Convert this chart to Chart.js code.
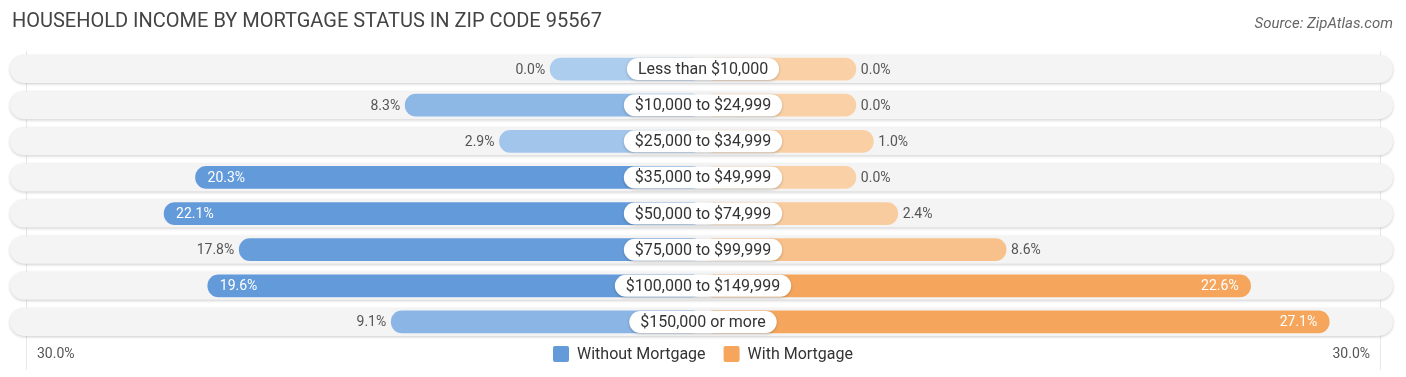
<!DOCTYPE html>
<html>
<head>
<meta charset="utf-8">
<script src="https://cdn.jsdelivr.net/npm/chart.js@4/dist/chart.umd.min.js"></script>
<style>
  html, body { margin:0; padding:0; background:#fff; }
  body { width:1406px; height:377px; position:relative; overflow:hidden; font-family:Roboto, sans-serif; }
  #title { position:absolute; left:12px; top:8px; font-size:20px; color:#444; }
  #source { position:absolute; right:13px; top:14px; font-size:15px; color:#666; font-style:italic; }
  #wrap { position:absolute; left:0; top:0; width:1406px; height:377px; }
</style>
</head>
<body>
<div id="wrap"><canvas id="chart" width="1406" height="377"></canvas></div>
<div id="title">HOUSEHOLD INCOME BY MORTGAGE STATUS IN ZIP CODE 95567</div>
<div id="source">Source: ZipAtlas.com</div>
<script>
// ── Data ─────────────────────────────────────────────────────
const categories = ['Less than $10,000','$10,000 to $24,999','$25,000 to $34,999','$35,000 to $49,999',
                    '$50,000 to $74,999','$75,000 to $99,999','$100,000 to $149,999','$150,000 or more'];
const withoutMortgage = [0.0, 8.3, 2.9, 20.3, 22.1, 17.8, 19.6, 9.1];
const withMortgage    = [0.0, 0.0, 1.0, 0.0, 2.4, 8.6, 22.6, 27.1];
const seriesNames = ['Without Mortgage', 'With Mortgage'];
const axisMax = 30;

// ── Layout helpers ───────────────────────────────────────────
const OFF = 8.75;        // room kept at centre for the category pill (in % units)
const HALF = 39.5;       // half-width of the x range
const C = { blueL:[173,205,238], blueD:[99,154,218], orgL:[250,209,167], orgD:[245,166,92], text:'#555', label:'#333' };

function mix(a, b, t) { return `rgb(${a.map((x,i)=>Math.round(x+(b[i]-x)*t)).join(',')})`; }
const blueCol = v => mix(C.blueL, C.blueD, Math.min(v/19, 1));
const orgCol  = v => mix(C.orgL,  C.orgD,  Math.min(v/22, 1));
const inside  = v => v >= 19;

function pill(ctx, x, y, w, h, r) {
  ctx.beginPath();
  ctx.roundRect(x, y, w, h, r);
}

const decor = {
  id:'decor',
  beforeDatasetsDraw(chart) {
    const { ctx, chartArea:a, scales:{ x, y } } = chart;
    ctx.save();
    // faint vertical lines at ±30%
    ctx.strokeStyle = '#e8e8e8'; ctx.lineWidth = 1;
    [-(OFF+axisMax), OFF+axisMax].forEach(v => {
      const px = Math.round(x.getPixelForValue(v)) + 0.5;
      ctx.beginPath(); ctx.moveTo(px, a.top); ctx.lineTo(px, a.bottom + 30); ctx.stroke();
    });
    // row backgrounds
    categories.forEach((c, i) => {
      const cy = y.getPixelForValue(i);
      ctx.shadowColor = 'rgba(0,0,0,0.2)'; ctx.shadowBlur = 3; ctx.shadowOffsetY = 1;
      ctx.fillStyle = '#f4f4f4';
      pill(ctx, a.left - 3, cy - 14, a.right - a.left + 3, 28, 14);
      ctx.fill();
    });
    ctx.restore();
  },
  afterDatasetsDraw(chart) {
    const { ctx, chartArea:a, scales:{ x, y } } = chart;
    const cx = x.getPixelForValue(0);
    ctx.save();
    ctx.textBaseline = 'middle';
    categories.forEach((c, i) => {
      const cy = y.getPixelForValue(i);
      // category pill
      ctx.font = '16px Roboto, sans-serif';
      const w = ctx.measureText(c).width + 22;
      ctx.shadowColor = 'rgba(0,0,0,0.22)'; ctx.shadowBlur = 3; ctx.shadowOffsetY = 1;
      ctx.fillStyle = '#fff';
      pill(ctx, cx - w/2, cy - 11, w, 22, 11);
      ctx.fill();
      ctx.shadowColor = 'transparent';
      ctx.fillStyle = C.label; ctx.textAlign = 'center';
      ctx.fillText(c, cx, cy + 1);
      // values
      ctx.font = '14px Roboto, sans-serif';
      const vl = withoutMortgage[i], vr = withMortgage[i];
      const lx = x.getPixelForValue(-(OFF + vl));
      if (inside(vl)) { ctx.fillStyle = '#fff'; ctx.textAlign = 'left'; ctx.fillText(vl.toFixed(1)+'%', lx + 12, cy + 1); }
      else { ctx.fillStyle = C.text; ctx.textAlign = 'right'; ctx.fillText(vl.toFixed(1)+'%', lx - 5, cy + 1); }
      const rx = x.getPixelForValue(OFF + vr);
      if (inside(vr)) { ctx.fillStyle = '#fff'; ctx.textAlign = 'right'; ctx.fillText(vr.toFixed(1)+'%', rx - 12, cy + 1); }
      else { ctx.fillStyle = C.text; ctx.textAlign = 'left'; ctx.fillText(vr.toFixed(1)+'%', rx + 5, cy + 1); }
    });
    // axis end labels
    const ly = a.bottom + 14;
    ctx.font = '14px Roboto, sans-serif'; ctx.fillStyle = C.text;
    ctx.textAlign = 'left';  ctx.fillText(axisMax.toFixed(1)+'%', 37, ly);
    ctx.textAlign = 'right'; ctx.fillText(axisMax.toFixed(1)+'%', 1370, ly);
    // legend
    ctx.font = '16px Roboto, sans-serif';
    const items = [[seriesNames[0], blueCol(20)], [seriesNames[1], orgCol(25)]];
    const gap = 18, box = 16, tgap = 8;
    const widths = items.map(([t]) => box + tgap + ctx.measureText(t).width);
    let lx0 = cx - (widths[0] + gap + widths[1]) / 2;
    items.forEach(([t, col], k) => {
      ctx.fillStyle = col;
      pill(ctx, lx0, ly - 8, box, 16, 2); ctx.fill();
      ctx.fillStyle = C.label; ctx.textAlign = 'left';
      ctx.fillText(t, lx0 + box + tgap, ly + 1);
      lx0 += widths[k] + gap;
    });
    ctx.restore();
  }
};

new Chart(document.getElementById('chart'), {
  type:'bar',
  data:{
    labels: categories,
    datasets:[
      { label:seriesNames[0], data: withoutMortgage.map(v => [-(OFF + v), 0]),
        backgroundColor: withoutMortgage.map(blueCol) },
      { label:seriesNames[1], data: withMortgage.map(v => [0, OFF + v]),
        backgroundColor: withMortgage.map(orgCol) },
    ].map(d => ({ ...d, grouped:false, barThickness:22, borderRadius:11, borderSkipped:false }))
  },
  options:{
    indexAxis:'y', responsive:false, animation:false,
    layout:{ padding:{ left:13, right:13, top:51, bottom:37 } },
    plugins:{ legend:{ display:false }, tooltip:{ enabled:false } },
    scales:{
      x:{ type:'linear', min:-HALF, max:HALF, display:false },
      y:{ display:false }
    }
  },
  plugins:[decor]
});
</script>
</body>
</html>
